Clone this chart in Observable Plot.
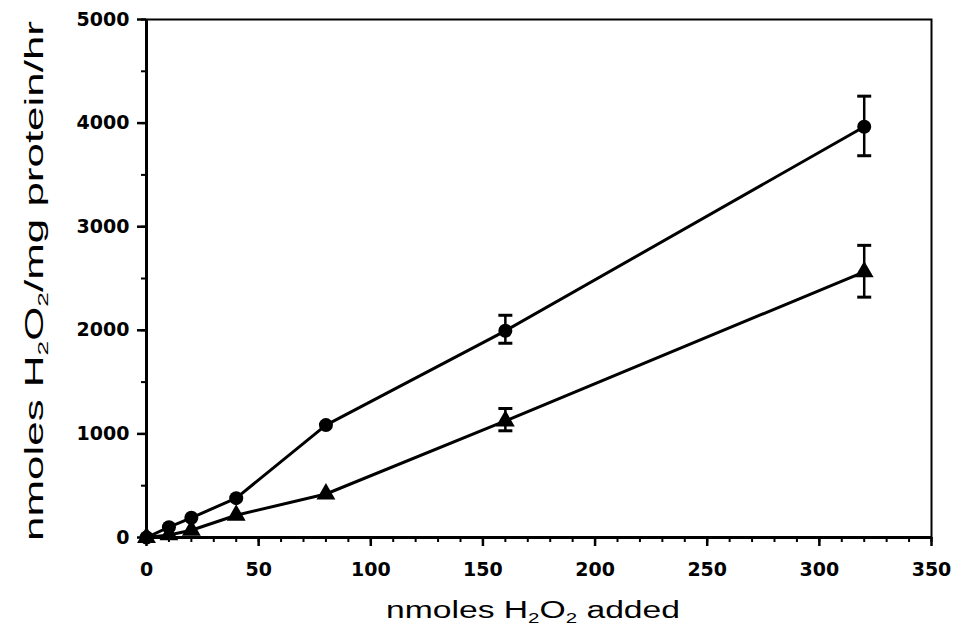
<!DOCTYPE html>
<html>
<head>
<meta charset="utf-8">
<script src="https://cdn.jsdelivr.net/npm/d3@7"></script>
<script src="https://cdn.jsdelivr.net/npm/@observablehq/plot@0.6"></script>
<style>
  html, body { margin: 0; padding: 0; background: #fff; }
  #chart svg { display: block; }
</style>
</head>
<body>
<div id="chart"></div>
<script>
// ---- data ----
const doses = [0, 10, 20, 40, 80, 160, 320];
const circleVals = [0, 100, 190, 380, 1085, 1995, 3965];
const triangleVals = [0, 25, 70, 215, 420, 1125, 2565];

const errDoses = [160, 320];
const circleLow = [1875, 3685];
const circleHigh = [2145, 4260];
const triangleLow = [1030, 2320];
const triangleHigh = [1245, 2820];

const xMajorTicks = [0, 50, 100, 150, 200, 250, 300, 350];
const xMinorTicks = d3.range(0, 351, 10);
const yMajorTicks = [0, 1000, 2000, 3000, 4000, 5000];
const yMinorTicks = d3.range(0, 5001, 500);

// ---- tables built from arrays ----
const circles = doses.map((d, i) => ({x: d, y: circleVals[i]}));
const triangles = doses.map((d, i) => ({x: d, y: triangleVals[i]}));
const errs = [
  ...errDoses.map((d, i) => ({x: d, lo: circleLow[i], hi: circleHigh[i]})),
  ...errDoses.map((d, i) => ({x: d, lo: triangleLow[i], hi: triangleHigh[i]}))
];
const caps = errs.flatMap(e => [{x: e.x, y: e.lo}, {x: e.x, y: e.hi}]);

const capSymbol = {
  draw(context, size) {
    context.moveTo(-7, 0);
    context.lineTo(7, 0);
  }
};

const tickFont = "'DejaVu Sans', 'Liberation Sans', Arial, sans-serif";

const chart = Plot.plot({
  width: 954,
  height: 627,
  marginLeft: 146,
  marginRight: 23,
  marginTop: 19,
  marginBottom: 90,
  style: {fontFamily: tickFont, fontSize: "19px", color: "black", background: "white"},
  x: {domain: [0, 350]},
  y: {domain: [0, 5000]},
  marks: [
    Plot.frame({stroke: "black", strokeWidth: 2}),
    Plot.axisX({ticks: xMinorTicks, tickSize: 5, strokeWidth: 2, text: null, label: null}),
    Plot.axisX({ticks: xMajorTicks, tickSize: 9, strokeWidth: 2.5, tickPadding: 16, label: null,
      fontFamily: tickFont, fontWeight: "bold", fontSize: 19, tickFormat: d => String(d)}),
    Plot.axisY({ticks: yMinorTicks, tickSize: 5, strokeWidth: 2, text: null, label: null}),
    Plot.axisY({ticks: yMajorTicks, tickSize: 9, strokeWidth: 2.5, tickPadding: 8, label: null,
      fontFamily: tickFont, fontWeight: "bold", fontSize: 19, tickFormat: d => String(d)}),
    Plot.ruleX([0], {stroke: "black", strokeWidth: 3}),
    Plot.ruleY([0], {stroke: "black", strokeWidth: 3}),
    Plot.ruleX(errs, {x: "x", y1: "lo", y2: "hi", stroke: "black", strokeWidth: 2.5}),
    Plot.dot(caps, {x: "x", y: "y", symbol: capSymbol, stroke: "black", strokeWidth: 3, r: 7}),
    Plot.line(circles, {x: "x", y: "y", stroke: "black", strokeWidth: 3}),
    Plot.line(triangles, {x: "x", y: "y", stroke: "black", strokeWidth: 3}),
    Plot.dot(circles, {x: "x", y: "y", r: 7, fill: "black", symbol: "circle"}),
    Plot.dot(triangles, {x: "x", y: "y", r: 7, fill: "black", symbol: "triangle"})
  ]
});

document.getElementById("chart").appendChild(chart);

// axis titles with real subscripts
const svg = d3.select(chart);
const font = "'Liberation Sans', Arial, Helvetica, sans-serif";

const xt = svg.append("text")
  .attr("x", 533).attr("y", 618)
  .attr("text-anchor", "middle")
  .attr("font-family", font).attr("font-size", 23)
  .attr("textLength", 294).attr("lengthAdjust", "spacingAndGlyphs")
  .attr("fill", "black");
xt.append("tspan").text("nmoles H");
xt.append("tspan").attr("font-size", 14).attr("dy", 5).text("2");
xt.append("tspan").attr("dy", -5).text("O");
xt.append("tspan").attr("font-size", 14).attr("dy", 5).text("2");
xt.append("tspan").attr("dy", -5).text(" added");

const yt = svg.append("text")
  .attr("transform", "translate(43,281) rotate(-90)")
  .attr("text-anchor", "middle")
  .attr("font-family", font).attr("font-size", 25)
  .attr("textLength", 520).attr("lengthAdjust", "spacingAndGlyphs")
  .attr("fill", "black");
yt.append("tspan").text("nmoles H");
yt.append("tspan").attr("font-size", 15).attr("dy", 5).text("2");
yt.append("tspan").attr("dy", -5).text("O");
yt.append("tspan").attr("font-size", 15).attr("dy", 5).text("2");
yt.append("tspan").attr("dy", -5).text("/mg protein/hr");
</script>
</body>
</html>
